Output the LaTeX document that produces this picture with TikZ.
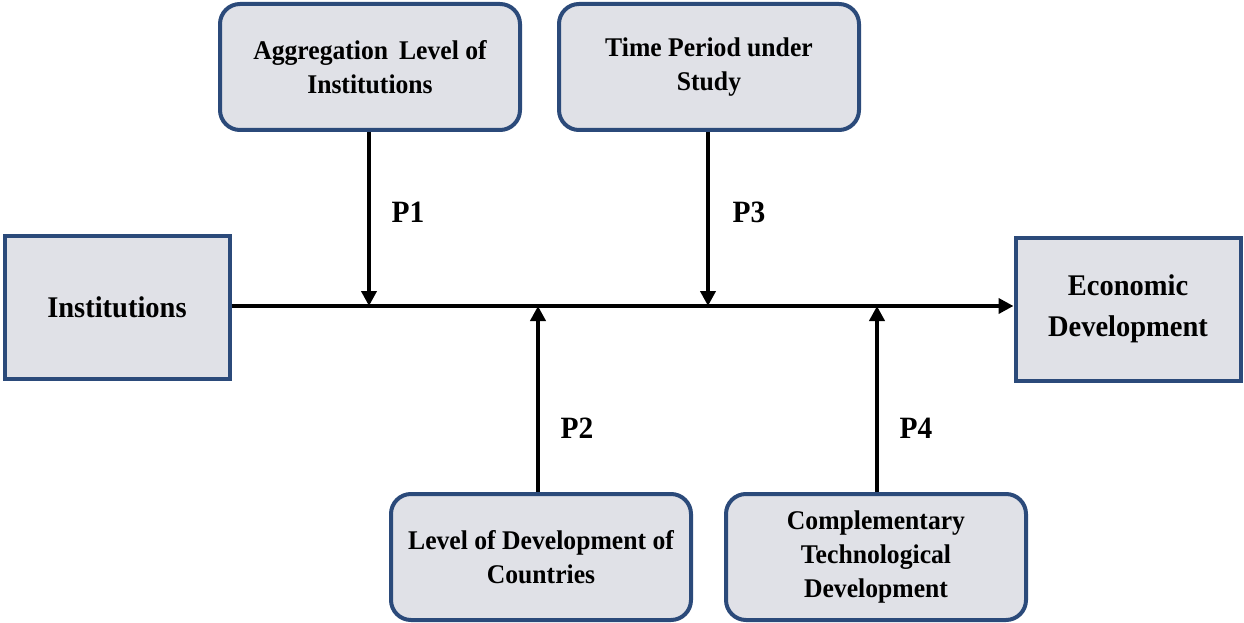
\documentclass[tikz,border=0pt]{standalone}
\usepackage{fontspec}
\setmainfont{Liberation Serif}[FakeStretch=0.95]
\usetikzlibrary{arrows.meta}
\definecolor{boxfill}{HTML}{E0E1E7}
\definecolor{boxedge}{HTML}{2B4A7A}
\tikzset{
  roundbox/.style={draw=boxedge, fill=boxfill, line width=4pt, rounded corners=20pt,
    minimum width=300pt, minimum height=126pt, align=center, inner sep=0pt,
    font=\fontsize{27}{34}\selectfont\bfseries},
  squarebox/.style={draw=boxedge, fill=boxfill, line width=4pt,
    minimum width=225pt, minimum height=143pt, align=center, inner sep=0pt,
    font=\fontsize{30}{41}\selectfont\bfseries},
  link/.style={line width=4.6pt, -{Triangle[length=15pt,width=15pt]}},
  plabel/.style={font=\fontsize{31}{34}\selectfont\bfseries}
}
\begin{document}
\begin{tikzpicture}[x=1pt,y=-1pt]
  \useasboundingbox (0,0) rectangle (1244,623);
  % outcome ends of the main relation
  \node[squarebox] (inst) at (117,307) {Institutions};
  \node[squarebox] (econ) at (1128,309) {Economic\\Development};
  % moderating factors
  \node[roundbox] (agg) at (370,67) {Aggregation\, Level of\\Institutions};
  \node[roundbox] (time) at (709,67) {Time Period under\\Study};
  \node[roundbox] (lvl) at (541,557) {Level of Development of\\Countries};
  \node[roundbox] (comp) at (876,557) {Complementary\\Technological\\Development};
  % points where the moderators meet the main line
  \coordinate (m1) at (369,306);
  \coordinate (m2) at (538,306);
  \coordinate (m3) at (708,306);
  \coordinate (m4) at (877,306);
  \draw[link] (inst.east |- 0,306) -- (econ.west |- 0,306);
  \draw[link] (agg.south -| m1) -- (m1);
  \draw[link] (time.south -| m3) -- (m3);
  \draw[link] (lvl.north -| m2) -- (m2);
  \draw[link] (comp.north -| m4) -- (m4);
  \node[plabel] (p1) at (408,212) {P1};
  \node[plabel] (p3) at (749,212) {P3};
  \node[plabel] (p2) at (577,428) {P2};
  \node[plabel] (p4) at (916,428) {P4};
\end{tikzpicture}
\end{document}
